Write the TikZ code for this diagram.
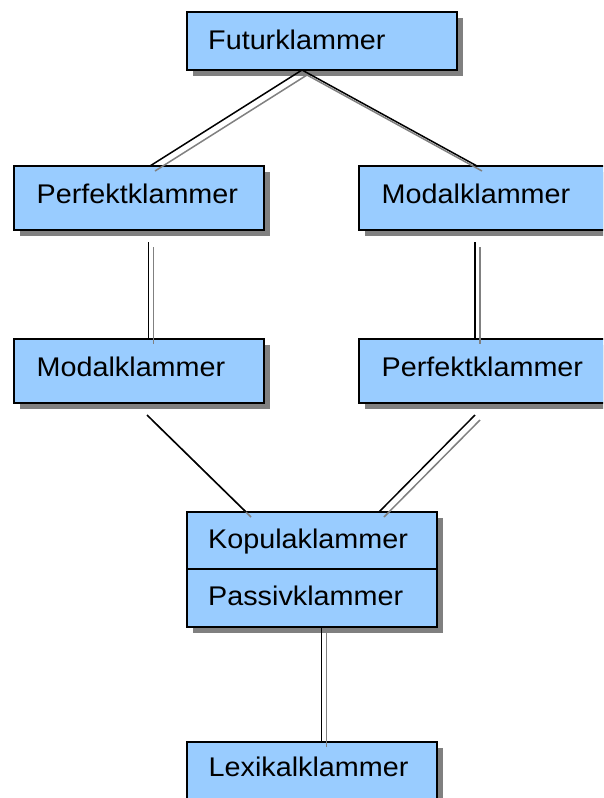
\documentclass[tikz,border=0pt]{standalone}
\usepackage{fontspec}
\setmainfont{Liberation Sans}
\usetikzlibrary{shadows}
\definecolor{boxblue}{RGB}{153,204,255}
\definecolor{shade}{RGB}{128,128,128}
\newcommand\kllink[2]{%
  \draw[linkshadow] ([shift={(5,5)}]#1) -- ([shift={(5,5)}]#2);
  \draw[link] (#1) -- (#2);}
\begin{document}
\begin{tikzpicture}[x=1pt,y=-1pt,
  klbox/.style={draw=black, line width=1.8pt, fill=boxblue, rectangle,
    inner sep=0pt, outer sep=0pt, anchor=north west,
    minimum width=250pt, minimum height=64pt,
    general shadow={fill=shade, shadow xshift=6pt, shadow yshift=-6pt}},
  lbl/.style={anchor=base west, inner sep=0pt, font=\fontsize{27}{30}\selectfont},
  link/.style={draw=black, line width=1.5pt},
  linkshadow/.style={draw=shade, line width=1.5pt}]
\clip (0,0) rectangle (603,798);
% boxes
\node[klbox, minimum width=270pt, minimum height=58pt] (fut) at (187,12) {};
\node[klbox] (pk1) at (14,166) {};
\node[klbox] (mo2) at (359,166) {};
\node[klbox] (mo1) at (14,339) {};
\node[klbox] (pk2) at (359,339) {};
\node[klbox, minimum height=57pt] (kop) at (187,512) {};
\node[klbox, minimum height=58pt] (pas) at (187,569) {};
\node[klbox, minimum height=58pt] (lex) at (187,742) {};
% labels
\node[lbl] (tfut) at ([shift={(21,37.3)}]fut.north west) {\scalebox{1.065}[1]{Futurklammer}};
\node[lbl] (tpk1) at ([shift={(22.5,37.3)}]pk1.north west) {\scalebox{1.065}[1]{Perfektklammer}};
\node[lbl] (tmo2) at ([shift={(22.5,37.3)}]mo2.north west) {\scalebox{1.065}[1]{Modalklammer}};
\node[lbl] (tmo1) at ([shift={(22.5,37.7)}]mo1.north west) {\scalebox{1.065}[1]{Modalklammer}};
\node[lbl] (tpk2) at ([shift={(22.5,37.7)}]pk2.north west) {\scalebox{1.065}[1]{Perfektklammer}};
\node[lbl] (tkop) at ([shift={(21,36.3)}]kop.north west) {\scalebox{1.065}[1]{Kopulaklammer}};
\node[lbl] (tpas) at ([shift={(21,36)}]pas.north west) {\scalebox{1.065}[1]{Passivklammer}};
\node[lbl] (tlex) at ([shift={(21.5,34.7)}]lex.north west) {\scalebox{1.065}[1]{Lexikalklammer}};
% connector end points
\coordinate (f1) at ([shift={(-20,0)}]fut.south);
\coordinate (p1t) at ([shift={(11,0)}]pk1.north);
\coordinate (m2t) at ([shift={(-7,0)}]mo2.north);
\coordinate (p1b) at ([shift={(9.3,12)}]pk1.south);
\coordinate (m1t) at ([shift={(9.3,0)}]mo1.north);
\coordinate (m2b) at ([shift={(-9,12)}]mo2.south);
\coordinate (p2t) at ([shift={(-9,0)}]pk2.north);
\coordinate (m1b) at ([shift={(8,12)}]mo1.south);
\coordinate (kl) at ([shift={(-66,0)}]kop.north);
\coordinate (p2b) at ([shift={(-9,12)}]pk2.south);
\coordinate (kr) at ([shift={(67,0)}]kop.north);
\coordinate (pb) at ([shift={(9.7,0)}]pas.south);
\coordinate (lt) at ([shift={(9.7,0)}]lex.north);
% connectors
\kllink{f1}{p1t}
\kllink{f1}{m2t}
\kllink{p1b}{m1t}
\kllink{m2b}{p2t}
\kllink{m1b}{kl}
\kllink{p2b}{kr}
\kllink{pb}{lt}
\end{tikzpicture}
\end{document}
